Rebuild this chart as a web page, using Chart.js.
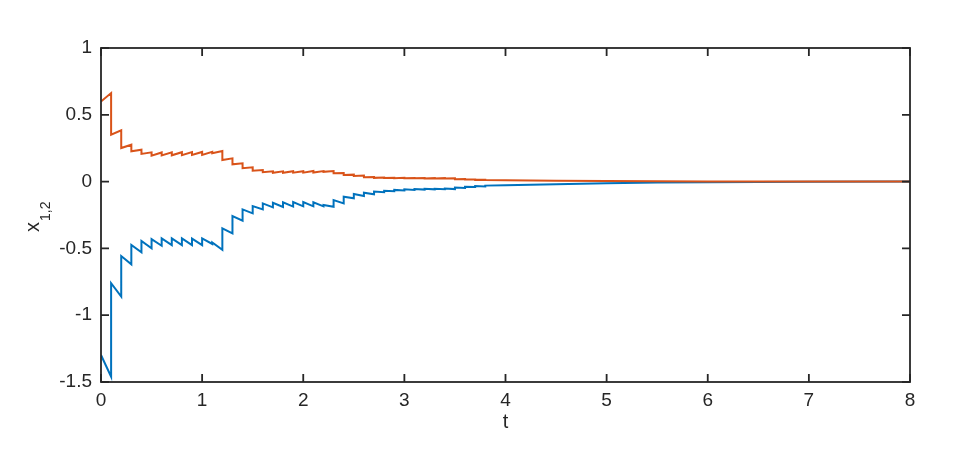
<!DOCTYPE html>
<html>
<head>
<meta charset="utf-8">
<script src="https://cdn.jsdelivr.net/npm/chart.js@4"></script>
<style>
  body { margin: 0; background: #fff; }
  canvas { display: block; }
</style>
</head>
<body>
<canvas id="grafico" width="975" height="450"></canvas>
<script>
// values
const xTicks = [0, 1, 2, 3, 4, 5, 6, 7, 8];
const yTicks = [-1.5, -1, -0.5, 0, 0.5, 1];

const x1Start = -1.298;
const x2Start = 0.60;

// impulse instants (every 0.1) with value just before / just after each jump
const impulseT = [0.1, 0.2, 0.3, 0.4, 0.5, 0.6, 0.7, 0.8, 0.9, 1.0,
                  1.1, 1.2, 1.3, 1.4, 1.5, 1.6, 1.7, 1.8, 1.9, 2.0,
                  2.1, 2.2, 2.3, 2.4, 2.5, 2.6, 2.7, 2.8, 2.9, 3.0,
                  3.1, 3.2, 3.3, 3.4, 3.5, 3.6, 3.7, 3.8];

const x1Before = [-1.46, -0.861, -0.619, -0.529, -0.50, -0.48, -0.475, -0.475, -0.475, -0.475,
                  -0.467, -0.51, -0.387, -0.292, -0.238, -0.208, -0.193, -0.19, -0.187, -0.185,
                  -0.185, -0.185, -0.188, -0.163, -0.125, -0.108, -0.095, -0.08, -0.072, -0.066,
                  -0.062, -0.06, -0.058, -0.057, -0.056, -0.048, -0.041, -0.036];
const x1After  = [-0.761, -0.557, -0.475, -0.445, -0.43, -0.425, -0.425, -0.425, -0.427, -0.425,
                  -0.455, -0.35, -0.258, -0.208, -0.183, -0.163, -0.158, -0.155, -0.153, -0.153,
                  -0.155, -0.175, -0.138, -0.113, -0.093, -0.083, -0.075, -0.068, -0.062, -0.058,
                  -0.056, -0.054, -0.053, -0.052, -0.045, -0.038, -0.033, -0.030];

const x2Before = [0.663, 0.384, 0.276, 0.239, 0.219, 0.218, 0.219, 0.22, 0.221, 0.222,
                  0.223, 0.229, 0.174, 0.137, 0.107, 0.087, 0.077, 0.077, 0.078, 0.078,
                  0.079, 0.079, 0.079, 0.065, 0.052, 0.045, 0.035, 0.031, 0.029, 0.028,
                  0.027, 0.027, 0.026, 0.026, 0.025, 0.020, 0.016, 0.014];
const x2After  = [0.351, 0.251, 0.227, 0.207, 0.194, 0.196, 0.197, 0.198, 0.199, 0.2,
                  0.212, 0.162, 0.129, 0.100, 0.082, 0.070, 0.066, 0.066, 0.067, 0.067,
                  0.068, 0.073, 0.062, 0.049, 0.042, 0.032, 0.028, 0.027, 0.026, 0.025,
                  0.025, 0.024, 0.024, 0.023, 0.018, 0.015, 0.013, 0.012];

// slow tail after the last visible jumps
const tailT  = [4.0, 4.5, 5.0, 5.5, 6.0, 7.0, 8.0];
const x1Tail = [-0.027, -0.019, -0.012, -0.007, -0.004, -0.001, 0];
const x2Tail = [0.011, 0.007, 0.004, 0.002, 0.001, 0.0002, 0];

function montarSerie(inicio, antes, depois, cauda) {
    const pts = [{ x: 0, y: inicio }];
    impulseT.forEach((t, i) => {
        pts.push({ x: t, y: antes[i] });
        pts.push({ x: t, y: depois[i] });
    });
    tailT.forEach((t, i) => pts.push({ x: t, y: cauda[i] }));
    return pts;
}

const moldura = {
    id: 'moldura',
    afterDraw(chart) {
        const { ctx, chartArea: a, scales: { x, y } } = chart;
        ctx.save();
        ctx.strokeStyle = '#262626';
        ctx.lineWidth = 1.8;
        ctx.strokeRect(a.left, a.top, a.right - a.left, a.bottom - a.top);
        ctx.beginPath();
        x.ticks.forEach(t => {
            const px = x.getPixelForValue(t.value);
            ctx.moveTo(px, a.bottom); ctx.lineTo(px, a.bottom - 8);
            ctx.moveTo(px, a.top); ctx.lineTo(px, a.top + 8);
        });
        y.ticks.forEach(t => {
            const py = y.getPixelForValue(t.value);
            ctx.moveTo(a.left, py); ctx.lineTo(a.left + 8, py);
            ctx.moveTo(a.right, py); ctx.lineTo(a.right - 8, py);
        });
        ctx.stroke();

        // y axis title x_{1,2}
        ctx.fillStyle = '#262626';
        ctx.translate(38.5, 232);
        ctx.rotate(-Math.PI / 2);
        ctx.textAlign = 'left';
        ctx.textBaseline = 'alphabetic';
        ctx.font = '20px "Liberation Sans", Arial, sans-serif';
        const wx = ctx.measureText('x').width;
        ctx.fillText('x', 0, 0);
        ctx.font = '14px "Liberation Sans", Arial, sans-serif';
        ctx.fillText('1,2', wx + 1, 11);
        ctx.restore();
    }
};

Chart.defaults.font.family = '"Liberation Sans", Arial, sans-serif';
Chart.defaults.font.size = 19;
Chart.defaults.color = '#262626';

new Chart(document.getElementById('grafico').getContext('2d'), {
    type: 'line',
    data: {
        datasets: [
            {
                label: 'x1',
                data: montarSerie(x1Start, x1Before, x1After, x1Tail),
                borderColor: '#0072BD',
                borderWidth: 2,
                pointRadius: 0,
                tension: 0,
                order: 2
            },
            {
                label: 'x2',
                data: montarSerie(x2Start, x2Before, x2After, x2Tail),
                borderColor: '#D95319',
                borderWidth: 2,
                pointRadius: 0,
                tension: 0,
                order: 1
            }
        ]
    },
    options: {
        responsive: false,
        animation: false,
        devicePixelRatio: 1,
        layout: { padding: { left: 0, top: 48, right: 65, bottom: 0 } },
        plugins: { legend: { display: false }, tooltip: { enabled: false } },
        scales: {
            x: {
                type: 'linear',
                min: 0,
                max: 8,
                afterBuildTicks: s => { s.ticks = xTicks.map(v => ({ value: v })); },
                afterFit: s => { s.height = 68; },
                grid: { display: false, drawTicks: false },
                border: { display: false },
                ticks: { padding: 7, maxRotation: 0, callback: v => String(v) },
                title: { display: true, text: 't', font: { size: 20 }, padding: { top: 0, bottom: 16 } }
            },
            y: {
                type: 'linear',
                min: -1.5,
                max: 1,
                afterBuildTicks: s => { s.ticks = yTicks.map(v => ({ value: v })); },
                afterFit: s => { s.width = 101; },
                grid: { display: false, drawTicks: false },
                border: { display: false },
                ticks: { padding: 9, callback: v => String(v) }
            }
        }
    },
    plugins: [moldura]
});
</script>
</body>
</html>
